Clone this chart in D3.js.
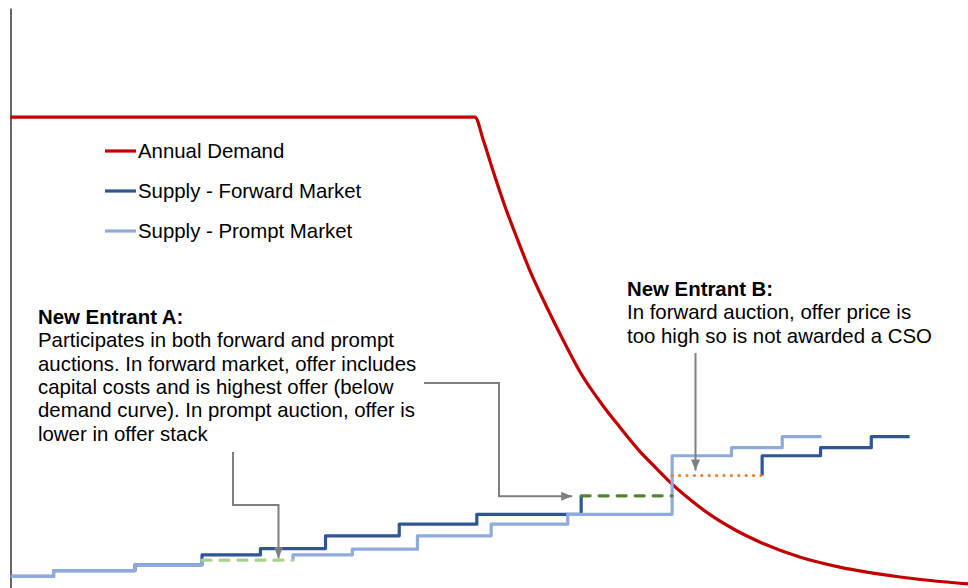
<!DOCTYPE html>
<html>
<head>
<meta charset="utf-8">
<script src="https://cdn.jsdelivr.net/npm/d3@7"></script>
<style>
  html, body { margin: 0; padding: 0; background: #fff; }
  svg text { font-family: "Liberation Sans", Arial, sans-serif; font-size: 20.4px; fill: #000; }
</style>
</head>
<body>
<div id="chart"></div>
<script>
// capacity (x) and price (y) in chart units
var demandX = [0, 48.5, 49.4, 50.4, 51.6, 52.9, 54.3, 55.9, 57.7, 59.5, 61.8, 63.7, 65.7, 67.4, 69.1, 71.0, 73.1, 75.7, 78.3, 82.5, 86.6, 92.9, 100];
var demandY = [81.2, 81.2, 77.1, 71.9, 66.0, 60.3, 54.5, 48.8, 42.8, 37.2, 31.6, 27.6, 23.6, 20.7, 17.9, 15.2, 12.6, 10.0, 7.9, 5.3, 3.6, 1.9, 0.7];

var forwardX1 = [0, 4.5, 13.0, 20.0, 26.1, 32.9, 40.6, 48.7, 59.6];
var forwardY1 = [2.0, 3.0, 4.0, 5.7, 6.8, 9.0, 11.0, 12.7, 15.9];
var forwardX2 = [78.5, 78.5, 84.6, 89.9, 93.9];
var forwardY2 = [19.4, 22.8, 24.2, 26.1, 26.1];

var promptX1 = [0, 4.5, 13.0, 20.0];
var promptY1 = [2.0, 3.0, 4.0, 4.8];
var promptX2 = [29.5, 29.5, 35.7, 42.5, 50.2, 58.2, 69.1, 75.3, 80.6, 84.7];
var promptY2 = [4.8, 5.7, 6.7, 9.0, 11.0, 12.7, 22.8, 24.2, 26.1, 26.1];

var entrantAForwardX = [59.6, 69.1], entrantAForwardY = [15.9, 15.9];
var entrantAPromptX = [20.0, 29.5], entrantAPromptY = [4.8, 4.8];
var entrantBForwardX = [69.1, 78.5], entrantBForwardY = [19.4, 19.4];

var legendLabels = ["Annual Demand", "Supply - Forward Market", "Supply - Prompt Market"];
var legendColors = ["#C00000", "#2F5597", "#8FAADC"];

var noteATitle = "New Entrant A:";
var noteALines = ["Participates in both forward and prompt",
                  "auctions. In forward market, offer includes",
                  "capital costs and is highest offer (below",
                  "demand curve). In prompt auction, offer is",
                  "lower in offer stack"];
var noteBTitle = "New Entrant B:";
var noteBLines = ["In forward auction, offer price is",
                  "too high so is not awarded a CSO"];

var width = 968, height = 588;

var svg = d3.select("#chart")
    .append("svg")
    .attr("width", width)
    .attr("height", height);

var x = d3.scaleLinear().domain([0, 100]).range([10.5, 968]);
var y = d3.scaleLinear().domain([0, 100]).range([588, 8]);

// only the vertical axis line is shown
svg.append("g")
    .attr("transform", "translate(10.5,0)")
    .call(d3.axisLeft(y).tickValues([]).tickSizeOuter(0))
    .select(".domain")
    .attr("stroke", "#000")
    .attr("stroke-width", 1.2);

function pts(xs, ys) { return xs.map((v, i) => [v, ys[i]]); }

var stepLine = d3.line().x(d => x(d[0])).y(d => y(d[1])).curve(d3.curveStepAfter);
var smoothLine = d3.line().x(d => x(d[0])).y(d => y(d[1])).curve(d3.curveMonotoneX);

function drawPath(gen, data, color, w, dash) {
    var p = svg.append("path")
        .attr("d", gen(data))
        .attr("fill", "none")
        .attr("stroke", color)
        .attr("stroke-width", w)
        .attr("stroke-linejoin", "round");
    if (dash) p.attr("stroke-dasharray", dash).attr("stroke-linecap", "round");
    return p;
}

drawPath(smoothLine, pts(demandX, demandY), "#C00000", 3.2);
drawPath(stepLine, pts(forwardX1, forwardY1), "#2F5597", 3.2);
drawPath(stepLine, pts(forwardX2, forwardY2), "#2F5597", 3.2);
drawPath(stepLine, pts(promptX1, promptY1), "#8FAADC", 3.2);
drawPath(stepLine, pts(promptX2, promptY2), "#8FAADC", 3.2);
drawPath(stepLine, pts(entrantAForwardX, entrantAForwardY), "#548235", 3.2, "9,9");
drawPath(stepLine, pts(entrantAPromptX, entrantAPromptY), "#A9D18E", 3.2, "9,9");
drawPath(stepLine, pts(entrantBForwardX, entrantBForwardY), "#ED7D31", 3.2, "0.1,7.3");

// legend
var legend = svg.append("g").attr("transform", "translate(105,151)");
legendLabels.forEach(function(lbl, i) {
    var g = legend.append("g").attr("transform", `translate(0,${i * 40})`);
    g.append("line").attr("x1", 0).attr("x2", 31).attr("y1", 0).attr("y2", 0)
        .attr("stroke", legendColors[i]).attr("stroke-width", 3.2);
    g.append("text").attr("x", 33).attr("y", 7).text(lbl);
});

// annotations
function note(xp, yp, title, lines) {
    var t = svg.append("text").attr("x", xp).attr("y", yp);
    t.append("tspan").attr("x", xp).attr("font-weight", "bold").text(title);
    lines.forEach(function(l) {
        t.append("tspan").attr("x", xp).attr("dy", 23.3).text(l);
    });
}
note(38, 324, noteATitle, noteALines);
note(627, 296, noteBTitle, noteBLines);

svg.append("defs").append("marker")
    .attr("id", "arrow")
    .attr("markerUnits", "userSpaceOnUse")
    .attr("markerWidth", 12).attr("markerHeight", 10)
    .attr("refX", 11).attr("refY", 4.5)
    .attr("orient", "auto")
    .append("path")
    .attr("d", "M0,0 L11,4.5 L0,9 Z")
    .attr("fill", "#7F7F7F");

function arrow(d) {
    svg.append("path")
        .attr("d", d)
        .attr("fill", "none")
        .attr("stroke", "#7F7F7F")
        .attr("stroke-width", 2)
        .attr("marker-end", "url(#arrow)");
}
arrow(`M233,452 V505 H278.5 V${y(entrantAPromptY[0]) - 2}`);
arrow(`M424,383 H499 V${y(entrantAForwardY[0]) + 0.5} H${x(entrantAForwardX[0]) - 9}`);
arrow(`M695.5,353 V${y(entrantBForwardY[0]) - 5}`);
</script>
</body>
</html>
